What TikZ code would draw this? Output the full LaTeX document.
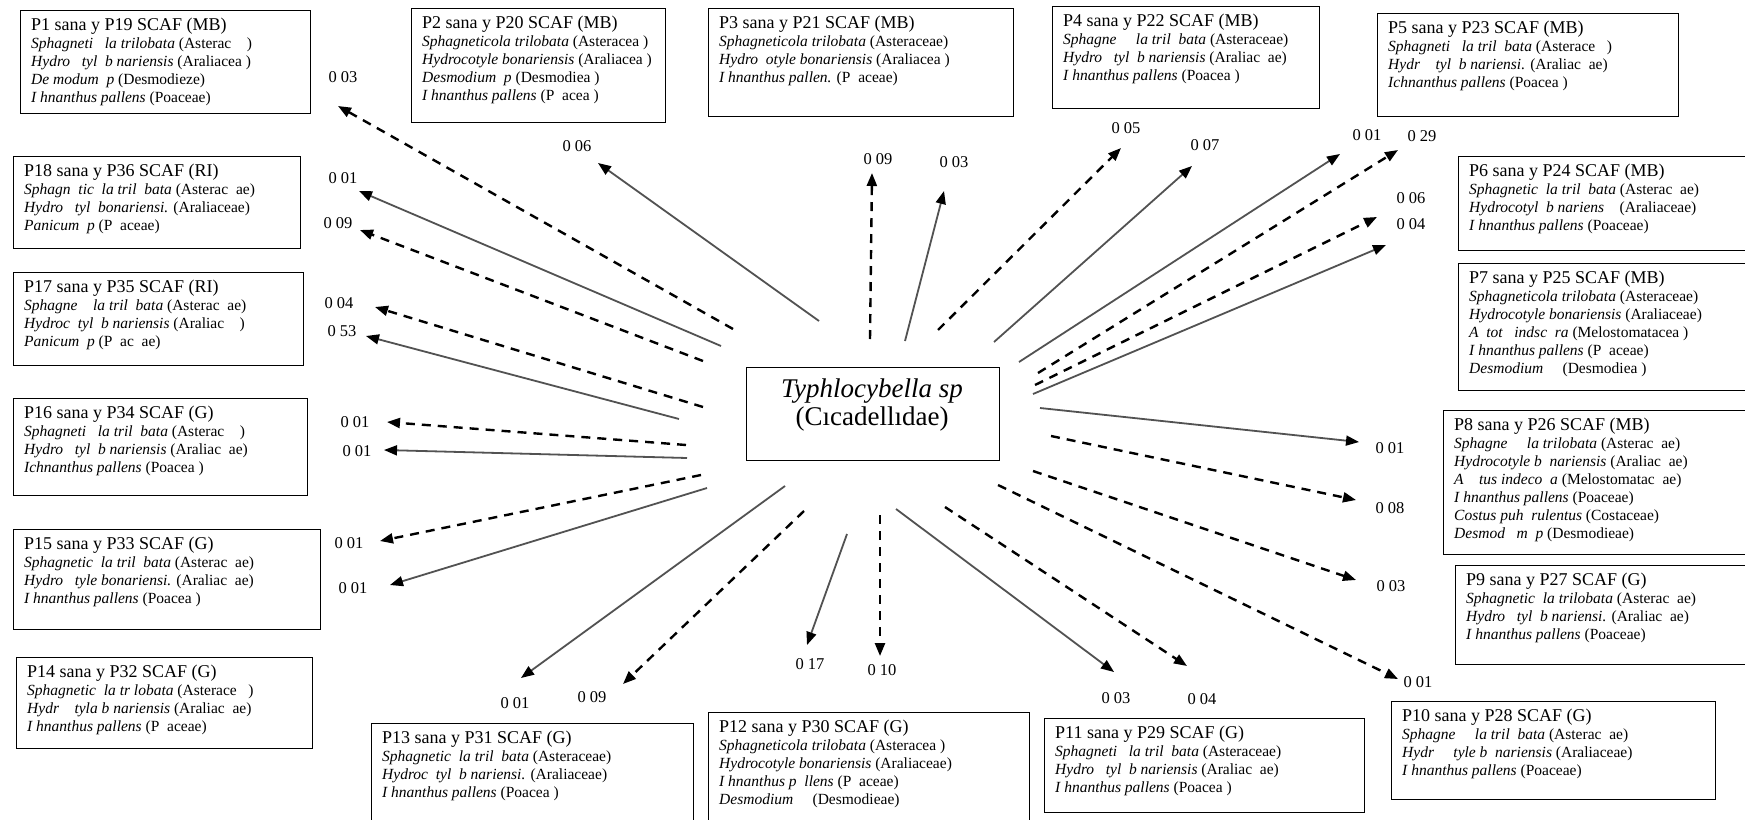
\documentclass[tikz,border=0pt]{standalone}
\usepackage{fontspec}
\setmainfont{Liberation Serif}
\usetikzlibrary{arrows.meta}

% title line and species line of a site box
\newcommand\ttl[1]{{\fontsize{18}{18}\selectfont #1}}
\newcommand\spc[2]{\textit{#1} (#2)}

\tikzset{
  frame/.style={draw=black, line width=1.3pt, inner sep=0pt},
  boxtext/.style={align=left, inner sep=0pt, font=\fontsize{15.5}{18}\selectfont},
  lbl/.style={font=\fontsize{16.5}{17}\selectfont, inner sep=0pt},
  sa/.style={draw=black!68, line width=1.8pt, -{Triangle[length=13pt,width=10pt,color=black]}},
  da/.style={draw=black, line width=2.4pt, dash pattern=on 9pt off 7pt, -{Triangle[length=13pt,width=10pt]}},
}

% framed site box: name, x, y, width, height, text
\newcommand\sitebox[6]{%
  \node[frame, minimum width=#4pt, minimum height=#5pt, anchor=north west] (#1) at (#2,#3) {};
  \node[boxtext, anchor=north west] (#1t) at ([xshift=11pt,yshift=-8pt]#1.north west) {#6};
}

\begin{document}
\begin{tikzpicture}[x=1pt,y=-1pt]
\useasboundingbox[fill=white] (0,0) rectangle (1745,819);

% ---------- site boxes ----------
\sitebox{p1}{20}{10}{290}{103}{\ttl{P1 sana y P19 SCAF (MB)}\\
\spc{Sphagneti~~~la trilobata}{Asterac~~~~}\\
\spc{Hydro~~~tyl~~b nariensis}{Araliacea~}\\
\spc{De modum~~p}{Desmodieze}\\
\spc{I~hnanthus pallens}{Poaceae}}

\sitebox{p2}{411}{8}{254}{114}{\ttl{P2 sana y P20 SCAF (MB)}\\
\spc{Sphagneticola trilobata}{Asteracea~}\\
\spc{Hydrocotyle bonariensis}{Araliacea~}\\
\spc{Desmodium~~p}{Desmodiea~}\\
\spc{I~hnanthus pallens}{P~~acea~}}

\sitebox{p3}{708}{8}{305}{108}{\ttl{P3 sana y P21 SCAF (MB)}\\
\spc{Sphagneticola trilobata}{Asteraceae}\\
\spc{Hydro~~otyle bonariensis}{Araliacea~}\\
\spc{I~hnanthus pallen.}{P~~aceae}}

\sitebox{p4}{1052}{6}{267}{102}{\ttl{P4 sana y P22 SCAF (MB)}\\
\spc{Sphagne~~~~~la tril~~bata}{Asteraceae}\\
\spc{Hydro~~~tyl~~b nariensis}{Araliac~~ae}\\
\spc{I~hnanthus pallens}{Poacea~}}

\sitebox{p5}{1377}{13}{301}{103}{\ttl{P5 sana y P23 SCAF (MB)}\\
\spc{Sphagneti~~~la tril~~bata}{Asterace~~~}\\
\spc{Hydr~~~~tyl~~b nariensi.}{Araliac~~ae}\\
\spc{Ichnanthus pallens}{Poacea~}}

\sitebox{p6}{1458}{156}{290}{94}{\ttl{P6 sana y P24 SCAF (MB)}\\
\spc{Sphagnetic~~la tril~~bata}{Asterac~~ae}\\
\spc{Hydrocotyl~~b nariens~~~}{Araliaceae}\\
\spc{I~hnanthus pallens}{Poaceae}}

\sitebox{p7}{1458}{263}{290}{127}{\ttl{P7 sana y P25 SCAF (MB)}\\
\spc{Sphagneticola trilobata}{Asteraceae}\\
\spc{Hydrocotyle bonariensis}{Araliaceae}\\
\spc{A~~tot~~~indsc~~ra}{Melostomatacea~}\\
\spc{I~hnanthus pallens}{P~~aceae}\\
\spc{Desmodium~~~~}{Desmodiea~}}

\sitebox{p8}{1443}{410}{305}{144}{\ttl{P8 sana y P26 SCAF (MB)}\\
\spc{Sphagne~~~~~la trilobata}{Asterac~~ae}\\
\spc{Hydrocotyle b~~nariensis}{Araliac~~ae}\\
\spc{A~~~~tus indeco~~a}{Melostomatac~~ae}\\
\spc{I~hnanthus pallens}{Poaceae}\\
\spc{Costus puh~~rulentus}{Costaceae}\\
\spc{Desmod~~~m~~p}{Desmodieae}}

\sitebox{p9}{1455}{565}{293}{99}{\ttl{P9 sana y P27 SCAF (G)}\\
\spc{Sphagnetic~~la trilobata}{Asterac~~ae}\\
\spc{Hydro~~~tyl~~b nariensi.}{Araliac~~ae}\\
\spc{I~hnanthus pallens}{Poaceae}}

\sitebox{p10}{1391}{701}{324}{98}{\ttl{P10 sana y P28 SCAF (G)}\\
\spc{Sphagne~~~~~la tril~~bata}{Asterac~~ae}\\
\spc{Hydr~~~~~tyle b~~nariensis}{Araliaceae}\\
\spc{I~hnanthus pallens}{Poaceae}}

\sitebox{p11}{1044}{718}{320}{94}{\ttl{P11 sana y P29 SCAF (G)}\\
\spc{Sphagneti~~~la tril~~bata}{Asteraceae}\\
\spc{Hydro~~~tyl~~b nariensis}{Araliac~~ae}\\
\spc{I~hnanthus pallens}{Poacea~}}

\sitebox{p12}{708}{712}{321}{110}{\ttl{P12 sana y P30 SCAF (G)}\\
\spc{Sphagneticola trilobata}{Asteracea~}\\
\spc{Hydrocotyle bonariensis}{Araliaceae}\\
\spc{I~hnanthus p~~llens}{P~~aceae}\\
\spc{Desmodium~~~~}{Desmodieae}}

\sitebox{p13}{371}{723}{322}{100}{\ttl{P13 sana y P31 SCAF (G)}\\
\spc{Sphagnetic~~la tril~~bata}{Asteraceae}\\
\spc{Hydroc~~tyl~~b nariensi.}{Araliaceae}\\
\spc{I~hnanthus pallens}{Poacea~}}

\sitebox{p14}{16}{657}{296}{91}{\ttl{P14 sana y P32 SCAF (G)}\\
\spc{Sphagnetic~~la tr~lobata}{Asterace~~~}\\
\spc{Hydr~~~~tyla b~nariensis}{Araliac~~ae}\\
\spc{I~hnanthus pallens}{P~~aceae}}

\sitebox{p15}{13}{529}{307}{100}{\ttl{P15 sana y P33 SCAF (G)}\\
\spc{Sphagnetic~~la tril~~bata}{Asterac~~ae}\\
\spc{Hydro~~~tyle bonariensi.}{Araliac~~ae}\\
\spc{I~hnanthus pallens}{Poacea~}}

\sitebox{p16}{13}{398}{294}{97}{\ttl{P16 sana y P34 SCAF (G)}\\
\spc{Sphagneti~~~la tril~~bata}{Asterac~~~~}\\
\spc{Hydro~~~tyl~~b nariensis}{Araliac~~ae}\\
\spc{Ichnanthus pallens}{Poacea~}}

\sitebox{p17}{13}{272}{290}{93}{\ttl{P17 sana y P35 SCAF (RI)}\\
\spc{Sphagne~~~~la tril~~bata}{Asterac~~ae}\\
\spc{Hydroc~~tyl~~b nariensis}{Araliac~~~~}\\
\spc{Panicum~~p}{P~~ac~~ae}}

\sitebox{p18}{13}{156}{287}{92}{\ttl{P18 sana y P36 SCAF (RI)}\\
\spc{Sphagn~~tic~~la tril~~bata}{Asterac~~ae}\\
\spc{Hydro~~~tyl~~bonariensi.}{Araliaceae}\\
\spc{Panicum~~p}{P~~aceae}}

% ---------- central taxon ----------
\node[frame, minimum width=253pt, minimum height=93pt, anchor=north west] (ctr) at (746,367) {};
\node[font=\fontsize{27}{28}\selectfont, align=center, inner sep=0pt] (ctrt) at (872,405) {\textit{Typhlocybella sp}\\(Cıcadellıdae)};

% ---------- arrow ends ----------
\coordinate (s1) at (733,329);  \coordinate (t1) at (338,106);
\coordinate (s2) at (819,321);  \coordinate (t2) at (598,163);
\coordinate (s3) at (870,339);  \coordinate (t3) at (872,173);
\coordinate (s4) at (905,341);  \coordinate (t4) at (944,191);
\coordinate (s5) at (938,330);  \coordinate (t5) at (1121,148);
\coordinate (s6) at (994,342);  \coordinate (t6) at (1192,166);
\coordinate (s7) at (1019,362); \coordinate (t7) at (1340,154);
\coordinate (s8) at (1038,373); \coordinate (t8) at (1398,150);
\coordinate (s9) at (1035,385); \coordinate (t9) at (1377,217);
\coordinate (s10) at (1033,394); \coordinate (t10) at (1386,245);
\coordinate (s11) at (1040,408); \coordinate (t11) at (1359,442);
\coordinate (s12) at (1051,436); \coordinate (t12) at (1356,500);
\coordinate (s13) at (1033,471); \coordinate (t13) at (1356,580);
\coordinate (s14) at (998,485);  \coordinate (t14) at (1398,679);
\coordinate (s15) at (945,507);  \coordinate (t15) at (1187,666);
\coordinate (s16) at (896,509);  \coordinate (t16) at (1114,672);
\coordinate (s17) at (880,515);  \coordinate (t17) at (880,656);
\coordinate (s18) at (847,534);  \coordinate (t18) at (807,645);
\coordinate (s19) at (804,511);  \coordinate (t19) at (623,684);
\coordinate (s20) at (785,486);  \coordinate (t20) at (521,678);
\coordinate (s21) at (707,488);  \coordinate (t21) at (390,585);
\coordinate (s22) at (701,475);  \coordinate (t22) at (380,541);
\coordinate (s23) at (687,458);  \coordinate (t23) at (384,450);
\coordinate (s24) at (686,445);  \coordinate (t24) at (387,422);
\coordinate (s25) at (679,419);  \coordinate (t25) at (366,336);
\coordinate (s26) at (703,407);  \coordinate (t26) at (375,307);
\coordinate (s27) at (703,361);  \coordinate (t27) at (360,230);
\coordinate (s28) at (721,346);  \coordinate (t28) at (359,191);

% ---------- arrows ----------
\draw[da] (s1) -- (t1);
\draw[sa] (s2) -- (t2);
\draw[da] (s3) -- (t3);
\draw[sa] (s4) -- (t4);
\draw[da] (s5) -- (t5);
\draw[sa] (s6) -- (t6);
\draw[sa] (s7) -- (t7);
\draw[da] (s8) -- (t8);
\draw[da] (s9) -- (t9);
\draw[sa] (s10) -- (t10);
\draw[sa] (s11) -- (t11);
\draw[da] (s12) -- (t12);
\draw[da] (s13) -- (t13);
\draw[da] (s14) -- (t14);
\draw[da] (s15) -- (t15);
\draw[sa] (s16) -- (t16);
\draw[da] (s17) -- (t17);
\draw[sa] (s18) -- (t18);
\draw[da] (s19) -- (t19);
\draw[sa] (s20) -- (t20);
\draw[sa] (s21) -- (t21);
\draw[da] (s22) -- (t22);
\draw[sa] (s23) -- (t23);
\draw[da] (s24) -- (t24);
\draw[sa] (s25) -- (t25);
\draw[da] (s26) -- (t26);
\draw[da] (s27) -- (t27);
\draw[sa] (s28) -- (t28);

% ---------- values ----------
\node[lbl] (l1) at (343,77) {0 03};
\node[lbl] (l2) at (577,146) {0 06};
\node[lbl] (l3) at (878,159) {0 09};
\node[lbl] (l4) at (954,162) {0 03};
\node[lbl] (l5) at (1126,128) {0 05};
\node[lbl] (l6) at (1205,145) {0 07};
\node[lbl] (l7) at (1367,135) {0 01};
\node[lbl] (l8) at (1422,136) {0 29};
\node[lbl] (l9) at (1411,198) {0 06};
\node[lbl] (l10) at (1411,224) {0 04};
\node[lbl] (l11) at (1390,448) {0 01};
\node[lbl] (l12) at (1390,508) {0 08};
\node[lbl] (l13) at (1391,586) {0 03};
\node[lbl] (l14) at (1418,682) {0 01};
\node[lbl] (l15) at (1202,699) {0 04};
\node[lbl] (l16) at (1116,698) {0 03};
\node[lbl] (l17) at (882,670) {0 10};
\node[lbl] (l18) at (810,664) {0 17};
\node[lbl] (l19) at (592,697) {0 09};
\node[lbl] (l20) at (515,703) {0 01};
\node[lbl] (l21) at (353,588) {0 01};
\node[lbl] (l22) at (349,543) {0 01};
\node[lbl] (l23) at (357,451) {0 01};
\node[lbl] (l24) at (355,422) {0 01};
\node[lbl] (l25) at (342,331) {0 53};
\node[lbl] (l26) at (339,303) {0 04};
\node[lbl] (l27) at (338,223) {0 09};
\node[lbl] (l28) at (343,178) {0 01};
\end{tikzpicture}
\end{document}
